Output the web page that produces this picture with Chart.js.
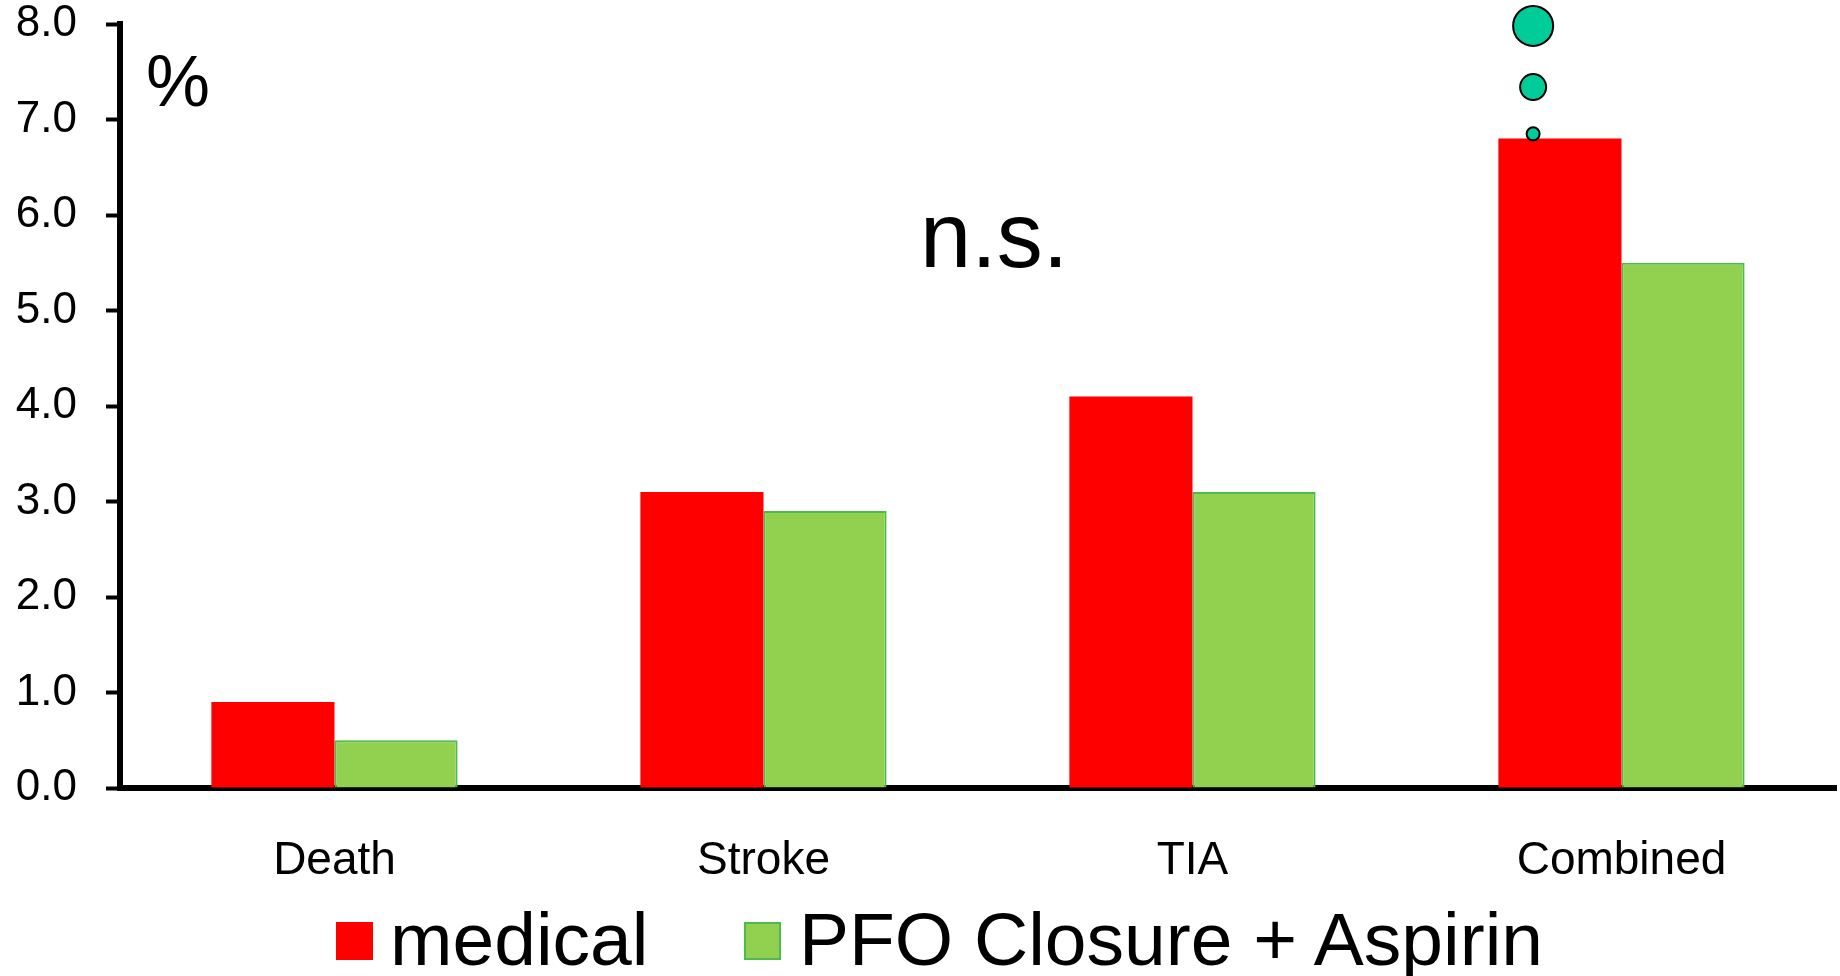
<!DOCTYPE html>
<html>
<head>
<meta charset="utf-8">
<script src="https://cdn.jsdelivr.net/npm/chart.js@4.4.1/dist/chart.umd.min.js"></script>
<style>
  html, body { margin: 0; padding: 0; background: #fff; }
  #wrap { position: relative; width: 1840px; height: 976px; overflow: hidden; font-family: "Liberation Sans", Arial, sans-serif; color: #000; }
  #c { position: absolute; left: 0; top: 0; }
  .txt { position: absolute; line-height: 1; white-space: nowrap; }
  .box { position: absolute; width: 37px; height: 38px; box-sizing: border-box; }
</style>
</head>
<body>
<div id="wrap">
  <canvas id="c" width="1840" height="976"></canvas>
  <div class="txt" style="left:146px; top:45px; font-size:72px;">%</div>
  <div class="txt" style="left:920px; top:189px; font-size:92px;">n.s.</div>
  <div class="box" style="left:336px; top:922px; background:#FF0000;"></div>
  <div class="txt" style="left:390px; top:902px; font-size:75px;">medical</div>
  <div class="box" style="left:744px; top:922px; background:#92D050; border:2px solid #4CBB4C;"></div>
  <div class="txt" style="left:799px; top:902px; font-size:75px;">PFO Closure + Aspirin</div>
</div>
<script>
const categories = ["Death", "Stroke", "TIA", "Combined"];
const medicalValues = [0.9, 3.1, 4.1, 6.8];
const pfoValues = [0.5, 2.9, 3.1, 5.5];
const yTicks = [0, 1, 2, 3, 4, 5, 6, 7, 8];
// decorative circles above the "Combined" medical bar (x as a fractional category index)
const markerX = [2.794, 2.794, 2.794];
const markerY = [7.98, 7.34, 6.85];
const markerR = [20, 13, 6.5];

const markerData = markerX.map((x, i) => ({ x: x, y: markerY[i] }));

new Chart(document.getElementById('c'), {
  type: 'bar',
  data: {
    labels: categories,
    datasets: [
      {
        type: 'bar',
        label: 'medical',
        data: medicalValues,
        backgroundColor: '#FF0000',
        borderWidth: 0,
        categoryPercentage: 0.574,
        barPercentage: 1.0,
        order: 1
      },
      {
        type: 'bar',
        label: 'PFO Closure + Aspirin',
        data: pfoValues,
        backgroundColor: '#92D050',
        borderColor: '#4CBB4C',
        borderWidth: 2,
        borderSkipped: 'bottom',
        categoryPercentage: 0.574,
        barPercentage: 1.0,
        order: 1
      },
      {
        type: 'scatter',
        label: 'markers',
        data: markerData,
        parsing: false,
        normalized: true,
        showLine: false,
        pointRadius: markerR,
        pointHoverRadius: markerR,
        pointBackgroundColor: '#00CC99',
        pointBorderColor: '#000000',
        pointBorderWidth: 2,
        clip: false,
        order: 0
      }
    ]
  },
  options: {
    responsive: false,
    animation: false,
    devicePixelRatio: 1,
    events: [],
    layout: { autoPadding: false, padding: { left: 0, right: 4, top: 24, bottom: 0 } },
    plugins: {
      legend: { display: false },
      tooltip: { enabled: false }
    },
    scales: {
      x: {
        type: 'category',
        offset: true,
        grid: { display: false, drawTicks: false },
        border: { display: true, color: '#000', width: 6 },
        ticks: {
          color: '#000',
          padding: 46,
          font: { family: '"Liberation Sans", Arial, sans-serif', size: 46 },
          maxRotation: 0,
          autoSkip: false
        },
        afterFit: (s) => { s.height = 188; s.paddingLeft = 0; s.paddingRight = 0; }
      },
      y: {
        type: 'linear',
        min: 0,
        max: 8,
        afterBuildTicks: (s) => { s.ticks = yTicks.map(v => ({ value: v })); },
        grid: {
          drawOnChartArea: false,
          drawTicks: true,
          tickLength: 14,
          tickWidth: 4,
          tickColor: '#000'
        },
        border: { display: true, color: '#000', width: 6 },
        ticks: {
          color: '#000',
          padding: 29,
          font: { family: '"Liberation Sans", Arial, sans-serif', size: 44 },
          callback: (v) => Number(v).toFixed(1)
        },
        afterFit: (s) => { s.width = 120; s.paddingTop = 0; s.paddingBottom = 0; }
      }
    }
  }
});
</script>
</body>
</html>
